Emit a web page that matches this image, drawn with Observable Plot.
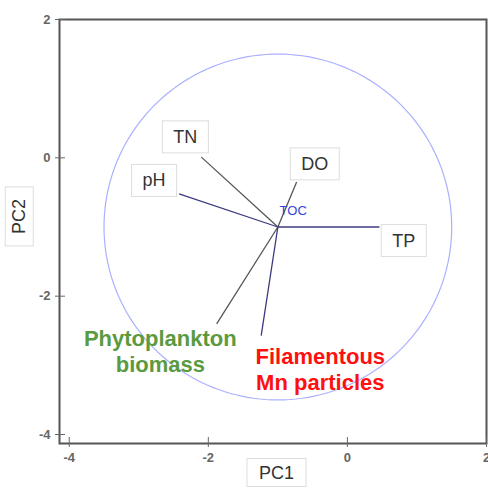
<!DOCTYPE html>
<html>
<head>
<meta charset="utf-8">
<script src="https://cdn.jsdelivr.net/npm/d3@7"></script>
<script src="https://cdn.jsdelivr.net/npm/@observablehq/plot@0.6"></script>
<style>
  html, body { margin: 0; padding: 0; background: #fff; }
  svg { display: block; }
</style>
</head>
<body>
<div id="chart"></div>
<script>
// ---- data ----
const origin = [-1, -1];
const circleRadius = 2.5;

const vecNames = ["TN", "DO", "pH", "TP", "Phytoplankton biomass", "Filamentous Mn particles"];
const vecPC1 = [-2.10, -0.73, -2.42, 0.46, -1.88, -1.24];
const vecPC2 = [0.01, -0.35, -0.52, -1.00, -2.40, -2.57];
const vecColor = ["#555555", "#555555", "#3a3a80", "#3a3a80", "#555555", "#3a3a80"];

const boxLabels = ["TN", "DO", "pH", "TP"];
const boxLabelX = [-2.33, -0.47, -2.78, 0.81];
const boxLabelY = [0.30, -0.09, -0.33, -1.20];

const tocLabel = ["TOC"];
const tocX = [-0.78];
const tocY = [-0.77];

const bigLabels = ["Phytoplankton\nbiomass", "Filamentous\nMn particles"];
const bigLabelX = [-2.69, -0.39];
const bigLabelY = [-2.79, -3.05];
const bigLabelColor = ["#5b9a3f", "#ff1010"];

const xTicks = [-4, -2, 0, 2];
const yTicks = [-4, -2, 0, 2];
const tickText = d => String(d);
const axisTitles = ["PC1", "PC2"];

// circle guide (geometric outline of radius circleRadius around origin)
const circlePts = d3.range(0, 361, 2).map(a => {
  const t = a * Math.PI / 180;
  return {x: origin[0] + circleRadius * Math.cos(t), y: origin[1] + circleRadius * Math.sin(t)};
});

const font = "'Liberation Sans', Arial, sans-serif";

const chart = Plot.plot({
  width: 488,
  height: 488,
  marginLeft: 59,
  marginRight: 2,
  marginTop: 19,
  marginBottom: 45,
  style: {fontFamily: font, background: "#fff"},
  x: {domain: [-4.14, 2]},
  y: {domain: [-4.13, 2]},
  marks: [
    Plot.line(circlePts, {x: "x", y: "y", stroke: "#aab0ff", strokeWidth: 1.2}),
    Plot.link(vecNames, {
      x1: () => origin[0], y1: () => origin[1],
      x2: vecPC1, y2: vecPC2,
      stroke: vecColor, strokeWidth: 1.3
    }),
    Plot.text(boxLabels, {x: boxLabelX, y: boxLabelY, text: boxLabels, fontSize: 18, fill: "#333"}),
    Plot.text(tocLabel, {x: tocX, y: tocY, text: tocLabel, fontSize: 13, fill: "#3344dd"}),
    Plot.text(bigLabels, {x: bigLabelX, y: bigLabelY, text: bigLabels, fontSize: 22, fontWeight: "bold", fill: bigLabelColor, lineHeight: 1.2}),
    Plot.frame({stroke: "#555", strokeWidth: 2}),
    Plot.axisX(xTicks, {tickSize: 10, dy: -6, tickPadding: 5, label: null, tickFormat: tickText, fontSize: 13, fontWeight: "bold", color: "#666"}),
    Plot.axisY(yTicks, {tickSize: 10, dx: 6, tickPadding: 5, label: null, tickFormat: tickText, fontSize: 13, fontWeight: "bold", color: "#666"}),
    Plot.text([axisTitles[0]], {x: () => -1.02, frameAnchor: "bottom", dy: 35, text: d => d, fontSize: 18, fill: "#333"}),
    Plot.text([axisTitles[1]], {y: () => -1.10, frameAnchor: "left", dx: -40, rotate: -90, text: d => d, fontSize: 18, fill: "#333"})
  ]
});

document.getElementById("chart").appendChild(chart);

// white boxes with faint border behind boxed labels
function addBoxes(names, padX, padY) {
  chart.querySelectorAll("text").forEach(t => {
    if (!names.includes(t.textContent.trim())) return;
    const b = t.getBBox();
    const r = document.createElementNS("http://www.w3.org/2000/svg", "rect");
    r.setAttribute("x", b.x - padX);
    r.setAttribute("y", b.y - padY);
    r.setAttribute("width", b.width + 2 * padX);
    r.setAttribute("height", b.height + 2 * padY);
    r.setAttribute("fill", "#fff");
    r.setAttribute("stroke", "#dddddd");
    r.setAttribute("stroke-width", "1");
    const tr = t.getAttribute("transform");
    if (tr) r.setAttribute("transform", tr);
    t.parentNode.insertBefore(r, t);
  });
}
addBoxes(boxLabels, 11, 6);
addBoxes(axisTitles, 12, 4);
</script>
</body>
</html>
